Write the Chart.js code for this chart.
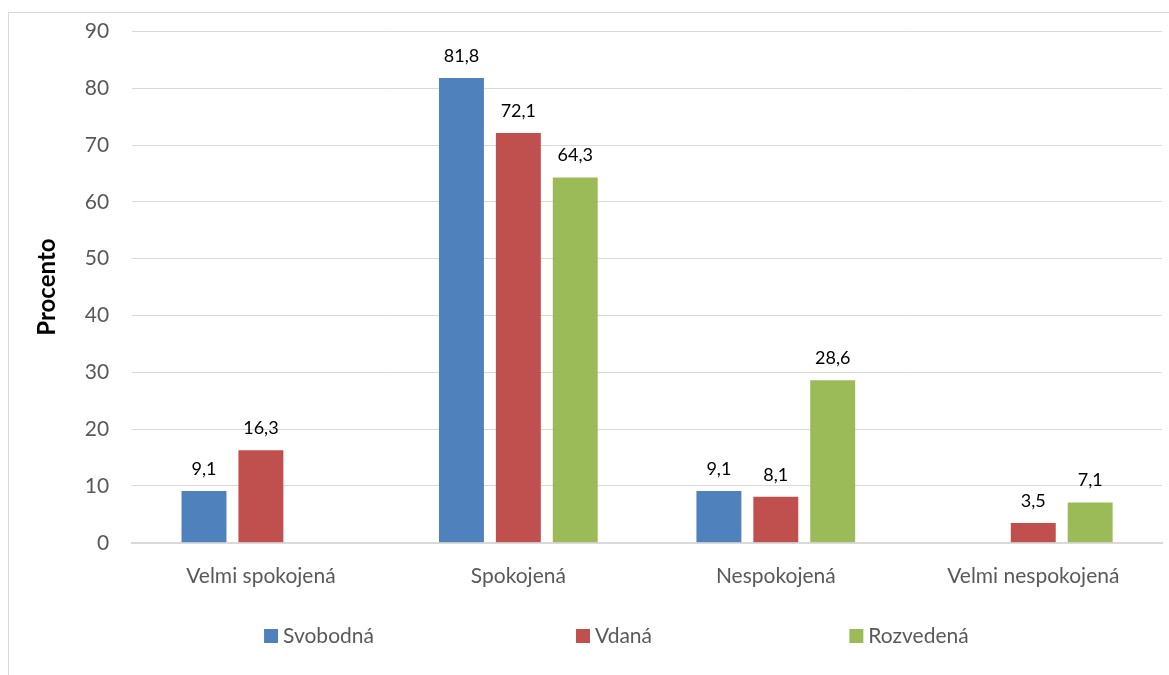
<!DOCTYPE html>
<html>
<head>
<meta charset="utf-8">
<script src="https://cdn.jsdelivr.net/npm/chart.js@4"></script>
<style>
  html, body { margin: 0; padding: 0; background: #fff; }
  #wrap { position: relative; width: 1169px; height: 675px; overflow: hidden; }
  #frame { position: absolute; left: 8px; top: 12px; width: 1200px; height: 700px;
           border-left: 1px solid #d9d9d9; border-top: 1px solid #d9d9d9; }
  canvas { position: absolute; left: 0; top: 0; }
</style>
</head>
<body>
<div id="wrap">
  <div id="frame"></div>
  <canvas id="canvas" width="1169" height="675"></canvas>
</div>
<script>
// values (percent)
const categories = ['Velmi spokojená', 'Spokojená', 'Nespokojená', 'Velmi nespokojená'];
const svobodna = [9.1, 81.8, 9.1, null];
const vdana = [16.3, 72.1, 8.1, 3.5];
const rozvedena = [null, 64.3, 28.6, 7.1];
const yTicks = [0, 10, 20, 30, 40, 50, 60, 70, 80, 90];

const FONT = "Lato, 'Noto Sans', sans-serif";

// value above each bar, with a decimal comma
const barLabels = {
  id: 'barLabels',
  afterDatasetsDraw(chart) {
    const ctx = chart.ctx;
    ctx.save();
    ctx.font = '18px ' + FONT;
    ctx.fillStyle = '#000';
    ctx.textAlign = 'center';
    ctx.textBaseline = 'middle';
    chart.data.datasets.forEach((ds, i) => {
      chart.getDatasetMeta(i).data.forEach((bar, j) => {
        const v = ds.data[j];
        if (v == null) return;
        ctx.fillText(v.toFixed(1).replace('.', ','), bar.x, bar.y - 22);
      });
    });
    ctx.restore();
  }
};

// Excel style legend: items spread out in equal slots under the plot
const wideLegend = {
  id: 'wideLegend',
  afterDraw(chart) {
    const ctx = chart.ctx;
    const slot = 295, mid = 614, y = 636;
    ctx.save();
    ctx.font = '21px ' + FONT;
    ctx.textBaseline = 'middle';
    chart.data.datasets.forEach((ds, i) => {
      const w = 14 + 5 + ctx.measureText(ds.label).width;
      const x0 = mid + (i - 1) * slot - w / 2;
      ctx.fillStyle = ds.backgroundColor;
      ctx.fillRect(x0, y - 7, 14, 14);
      ctx.fillStyle = '#595959';
      ctx.textAlign = 'left';
      ctx.fillText(ds.label, x0 + 19, y);
    });
    ctx.restore();
  }
};

new Chart(document.getElementById('canvas').getContext('2d'), {
  type: 'bar',
  data: {
    labels: categories,
    datasets: [
      { label: 'Svobodná', data: svobodna, backgroundColor: '#4F81BD' },
      { label: 'Vdaná', data: vdana, backgroundColor: '#C0504D' },
      { label: 'Rozvedená', data: rozvedena, backgroundColor: '#9BBB59' }
    ]
  },
  options: {
    responsive: false,
    animation: false,
    layout: { padding: { top: 0, left: 33, right: 7, bottom: 73 } },
    datasets: { bar: { categoryPercentage: 0.663, barPercentage: 0.79 } },
    plugins: {
      tooltip: { enabled: false },
      legend: { display: false }
    },
    scales: {
      x: {
        grid: { display: false },
        border: { color: '#d9d9d9', width: 2 },
        ticks: { font: { family: FONT, size: 21 }, color: '#595959', padding: 13 }
      },
      y: {
        min: 0,
        max: 90,
        afterBuildTicks: axis => { axis.ticks = yTicks.map(v => ({ value: v })); },
        grid: { color: '#d9d9d9', drawTicks: false },
        border: { display: false },
        ticks: { font: { family: FONT, size: 21, lineHeight: 0.8 }, color: '#595959', padding: 23 },
        title: {
          display: true,
          text: 'Procento',
          font: { family: FONT, size: 24, weight: 'bold' },
          color: '#000',
          padding: { top: 0, bottom: 0 }
        }
      }
    }
  },
  plugins: [barLabels, wideLegend]
});
</script>
</body>
</html>
